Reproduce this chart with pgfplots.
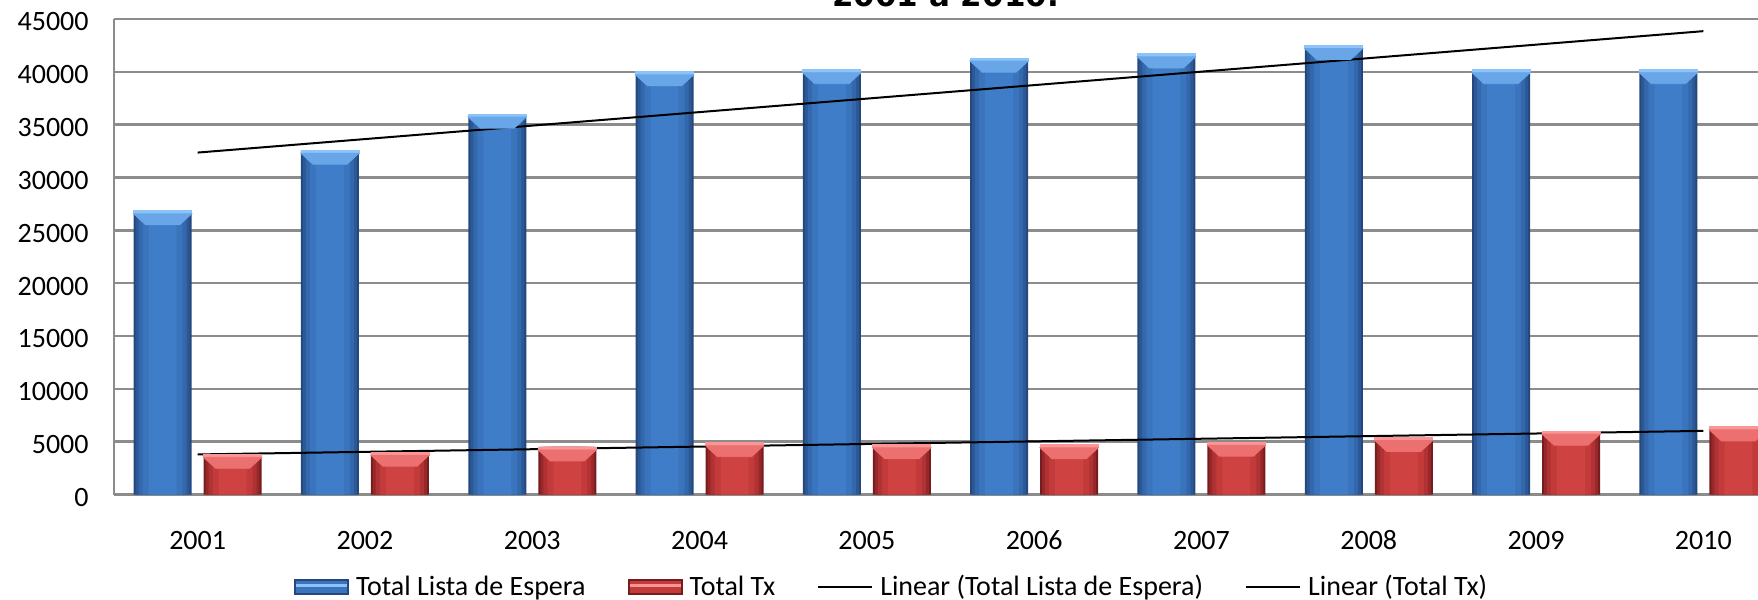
\documentclass[border=0pt]{standalone}
\usepackage{fontspec}
\setmainfont{Carlito}
\newfontfamily\titlefont{DejaVu Sans}
\usepackage{pgfplots}
\usepackage{pgfplotstable}
\pgfplotsset{compat=1.18}

\definecolor{gridgray}{RGB}{140,140,140}
% blue bar, from the edge to the middle
\definecolor{blueA}{RGB}{36,72,126}
\definecolor{blueB}{RGB}{44,88,150}
\definecolor{blueC}{RGB}{52,104,172}
\definecolor{blueD}{RGB}{58,116,188}
\definecolor{blueE}{RGB}{63,125,200}
\definecolor{blueLite}{RGB}{104,166,232}
\definecolor{blueTop}{RGB}{140,196,250}
% red bar, from the edge to the middle
\definecolor{redA}{RGB}{118,28,30}
\definecolor{redB}{RGB}{150,40,42}
\definecolor{redC}{RGB}{176,50,52}
\definecolor{redD}{RGB}{194,58,58}
\definecolor{redE}{RGB}{206,66,66}
\definecolor{redLite}{RGB}{236,112,112}
\definecolor{redTop}{RGB}{250,150,150}

% bevel on top of each bar (blue bar sits left of the category, red right)
\pgfdeclareplotmark{bevelblue}{%
  \fill[blueTop] (-32pt,0pt) rectangle (-3pt,-1.5pt);
  \fill[blueLite] (-32pt,-1.5pt) -- (-3pt,-1.5pt) -- (-9pt,-7pt) -- (-26pt,-7pt) -- cycle;
}
\pgfdeclareplotmark{bevelred}{%
  \fill[redTop] (3pt,0pt) rectangle (32pt,-1.5pt);
  \fill[redLite] (3pt,-1.5pt) -- (32pt,-1.5pt) -- (26pt,-7pt) -- (9pt,-7pt) -- cycle;
}

\pgfplotstableread{
x lista tx
1 26850 3800
2 32580 4000
3 36000 4500
4 40000 4900
5 40200 4700
6 41300 4700
7 41700 4950
8 42500 5400
9 40200 6000
10 40200 6400
}\dados

% one layer of a bar: column, shift, width, colour
\newcommand{\camada}[4]{%
  \addplot[ybar, forget plot, draw=none, fill=#4, bar width=#3, bar shift=#2]
    table[x=x, y=#1] {\dados};}

\begin{document}
\begin{tikzpicture}
\path[use as bounding box, clip] (0,0) rectangle (879pt,300pt);

\node[font=\titlefont\bfseries\fontsize{15.5}{18}\selectfont, anchor=base]
  at (472.75pt,296.5pt) {2001 a 2010.};

\begin{axis}[
  at={(57pt,52.75pt)}, anchor=south west,
  width=836.5pt, height=237.75pt, scale only axis,
  xmin=0.5, xmax=10.5, ymin=0, ymax=45000,
  axis x line*=bottom, axis y line*=left,
  axis line style={gridgray, line width=1.25pt},
  ymajorgrids, grid style={gridgray, line width=1.25pt},
  xtick={1,...,10},
  xticklabels={2001,2002,2003,2004,2005,2006,2007,2008,2009,2010},
  ytick={0,5000,...,45000},
  scaled y ticks=false,
  /pgf/number format/.cd, 1000 sep={}, assume math mode=true, /pgfplots/.cd,
  major tick length=0pt,
  tick label style={font=\fontsize{14}{16}\selectfont},
  xticklabel style={anchor=north, inner sep=0pt, text height=9pt, yshift=-18.4pt},
  yticklabel style={anchor=east, inner sep=0pt, xshift=-12.5pt, yshift=-1.5pt},
  legend columns=4,
  legend style={at={(0.1076,-0.1945)}, anchor=west, draw=none, fill=none,
    inner sep=0pt, outer sep=0pt, font=\fontsize{14}{16}\selectfont,
    nodes={inner sep=0pt},
    /tikz/every odd column/.append style={column sep=3.5pt},
    /tikz/every even column/.append style={column sep=21pt}},
]

% Total Lista de Espera
\addplot[ybar, draw=none, fill=blueA, bar width=29pt, bar shift=-17.5pt,
  legend image code/.code={
    \fill[blueA] (0pt,-4pt) rectangle (27.5pt,4pt);
    \fill[blueD] (1pt,-3pt) rectangle (26.5pt,3pt);
    \fill[blueTop] (1pt,0pt) rectangle (26.5pt,1.5pt);}]
  table[x=x, y=lista] {\dados};
\addlegendentry{Total Lista de Espera}
\camada{lista}{-17.5pt}{27pt}{blueB}
\camada{lista}{-17.5pt}{24pt}{blueC}
\camada{lista}{-17.5pt}{20pt}{blueD}
\camada{lista}{-17.5pt}{14pt}{blueE}

% Total Tx
\addplot[ybar, draw=none, fill=redA, bar width=29pt, bar shift=17.5pt,
  legend image code/.code={
    \fill[redA] (0pt,-4pt) rectangle (27.5pt,4pt);
    \fill[redD] (1pt,-3pt) rectangle (26.5pt,3pt);
    \fill[redTop] (1pt,0pt) rectangle (26.5pt,1.5pt);}]
  table[x=x, y=tx] {\dados};
\addlegendentry{Total Tx}
\camada{tx}{17.5pt}{27pt}{redB}
\camada{tx}{17.5pt}{24pt}{redC}
\camada{tx}{17.5pt}{20pt}{redD}
\camada{tx}{17.5pt}{14pt}{redE}

\addplot[only marks, mark=bevelblue, forget plot] table[x=x, y=lista] {\dados};
\addplot[only marks, mark=bevelred, forget plot] table[x=x, y=tx] {\dados};

\addplot[black, line width=1pt, mark=none,
  legend image code/.code={\draw[black, line width=1pt] (0pt,0pt) -- (27pt,0pt);}]
  coordinates {(1,32360) (10,43850)};
\addlegendentry{Linear (Total Lista de Espera)}

\addplot[black, line width=1pt, mark=none,
  legend image code/.code={\draw[black, line width=1pt] (0pt,0pt) -- (27pt,0pt);}]
  coordinates {(1,3790) (10,6020)};
\addlegendentry{Linear (Total Tx)}

\end{axis}
\end{tikzpicture}
\end{document}
